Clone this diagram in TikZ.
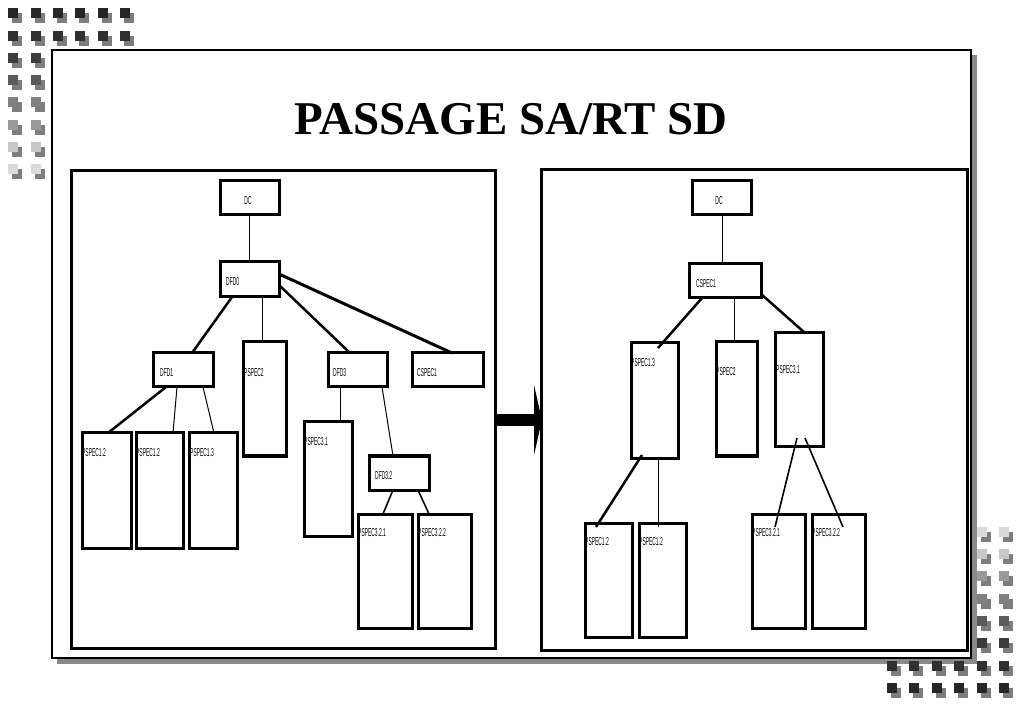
\documentclass[tikz,border=0pt]{standalone}
\usepackage{fontspec}
\usepackage{graphicx}
\setmainfont{Liberation Serif}
\newfontfamily\labfont{Liberation Sans}
\usetikzlibrary{calc,fit}
\newcommand{\cond}[1]{\scalebox{0.43}[1]{#1}}
\definecolor{sqA}{HTML}{262626}
\definecolor{sqB}{HTML}{303030}
\definecolor{sqC}{HTML}{3C3C3C}
\definecolor{sqD}{HTML}{5A5A5A}
\definecolor{sqE}{HTML}{808080}
\definecolor{sqF}{HTML}{9A9A9A}
\definecolor{sqG}{HTML}{C8C8C8}
\definecolor{sqH}{HTML}{DADADA}
\definecolor{sqshadow}{HTML}{7D7D7D}
\definecolor{frameshadow}{HTML}{8A8A8A}
\begin{document}
\begin{tikzpicture}[x=1pt,y=-1pt,
  box/.style={draw, line width=3pt, fill=white, inner sep=0pt, outer sep=0pt},
  panel/.style={draw, line width=3pt, fill=white, inner sep=0pt, outer sep=0pt},
  lab/.style={inner sep=0pt, font=\labfont\fontsize{11.5}{11.5}\selectfont, anchor=west},
  labc/.style={inner sep=0pt, font=\labfont\fontsize{11.5}{11.5}\selectfont},
  conn/.style={line width=1pt},
  connmid/.style={line width=1.6pt},
  connthick/.style={line width=2.5pt}
]
\useasboundingbox (0,0) rectangle (1023,708);

% outer frame with shadow
\fill[frameshadow] (57,55) rectangle (977,664);
\node[draw, line width=1.2pt, fill=white, inner sep=0pt, outer sep=0pt, fit={(52,50) (971,658)}] (frame) {};

% title
\node[font=\bfseries\fontsize{47}{47}\selectfont, anchor=base, inner sep=0pt] (title) at (511,135) {PASSAGE SA/RT SD};

% panels
\node[panel, fit={(71,171) (495,648)}] (leftP) {};
\node[panel, fit={(541,170) (967,650)}] (rightP) {};

% big arrow between panels
\fill ($(leftP.east)+(0,4.5)$) rectangle ($(leftP.east)+(39,16.5)$);
\fill ($(leftP.east)+(39,-24.5)$) -- ($(rightP.west)+(1,10)$) -- ($(leftP.east)+(39,45.5)$) -- cycle;

% ---------- left tree ----------
\node[box, fit={(220,181) (279,215)}] (dcL) {};
\node[box, fit={(220,262) (279,297)}] (dfd0) {};
\node[box, fit={(153,353) (213,387)}] (dfd1) {};
\node[box, fit={(243,342) (286,456)}] (p2L) {};
\node[box, fit={(328,353) (387,387)}] (dfd3) {};
\node[box, fit={(412,353) (483,387)}] (csL) {};
\node[box, fit={(82,433) (131,548)}] (p12aL) {};
\node[box, fit={(136,433) (183,548)}] (p12bL) {};
\node[box, fit={(189,433) (237,548)}] (p13L) {};
\node[box, fit={(304,422) (352,536)}] (p31L) {};
\node[box, fit={(369,456) (429,490)}] (dfd32) {};
\node[box, fit={(358,514) (412,628)}] (p321L) {};
\node[box, fit={(418,514) (471,628)}] (p322L) {};

\node[labc] at ($(dcL.center)+(-1.5,3)$) {\cond{DC}};
\node[lab] at ($(dfd0.north west)+(6,20)$) {\cond{DFD0}};
\node[lab] at ($(dfd1.north west)+(7,20)$) {\cond{DFD1}};
\node[lab] at ($(p2L.north west)+(1,31)$) {\cond{PSPEC2}};
\node[lab] at ($(dfd3.north west)+(5,20)$) {\cond{DFD3}};
\node[lab] at ($(csL.north west)+(5,20)$) {\cond{CSPEC1}};
\node[lab] at ($(p12aL.north west)+(0,20)$) {\cond{PSPEC1.2}};
\node[lab] at ($(p12bL.north west)+(0,20)$) {\cond{PSPEC1.2}};
\node[lab] at ($(p13L.north west)+(1,20)$) {\cond{PSPEC1.3}};
\node[lab] at ($(p31L.north west)+(0,20)$) {\cond{PSPEC3.1}};
\node[lab] at ($(dfd32.north west)+(6,20)$) {\cond{DFD3.2}};
\node[lab] at ($(p321L.north west)+(0,19)$) {\cond{PSPEC3.2.1}};
\node[lab] at ($(p322L.north west)+(0,19)$) {\cond{PSPEC3.2.2}};

\draw[conn] (dcL.south) -- (dfd0.north);
\draw[connthick] ($(dfd0.south)+(-17.5,0)$) -- ($(dfd1.north)+(9,0)$);
\draw[conn] ($(dfd0.south)+(12.5,0)$) -- ($(p2L.north)+(-2.5,0)$);
\draw[connthick] ($(dfd0.east)+(0,5.5)$) -- ($(dfd3.north)+(-7.5,0)$);
\draw[connthick, line width=3pt] ($(dfd0.east)+(0,-5.5)$) -- ($(csL.north)+(4.5,0)$);
\draw[connthick] ($(dfd1.south)+(-17,0)$) -- ($(p12aL.north)+(1.5,0)$);
\draw[conn] ($(dfd1.south)+(-6,0)$) -- ($(p12bL.north)+(13.5,0)$);
\draw[conn] ($(dfd1.south)+(20,0)$) -- ($(p13L.north)+(1,0)$);
\draw[conn] ($(dfd3.south)+(-17.5,0)$) -- ($(p31L.north)+(12,0)$);
\draw[conn] ($(dfd3.south)+(24.5,0)$) -- ($(dfd32.north)+(-6,0)$);
\draw[connmid] ($(dfd32.south)+(-6,0)$) -- ($(p321L.north)+(-2,0)$);
\draw[connmid] ($(dfd32.south)+(19,0)$) -- ($(p322L.north)+(-15.5,0)$);

% ---------- right tree ----------
\node[box, fit={(692,181) (751,215)}] (dcR) {};
\node[box, fit={(689,264) (761,298)}] (csR) {};
\node[box, fit={(631,343) (678,458)}] (p13R) {};
\node[box, fit={(716,342) (757,456)}] (p2R) {};
\node[box, fit={(775,333) (823,447)}] (p31R) {};
\node[box, fit={(585,523) (632,637)}] (p12aR) {};
\node[box, fit={(639,523) (686,637)}] (p12bR) {};
\node[box, fit={(752,514) (805,628)}] (p321R) {};
\node[box, fit={(812,514) (865,628)}] (p322R) {};

\node[labc] at ($(dcR.center)+(-2.5,3)$) {\cond{DC}};
\node[lab] at ($(csR.north west)+(7,20)$) {\cond{CSPEC1}};
\node[lab] at ($(p13R.north west)+(0,20)$) {\cond{PSPEC1.3}};
\node[lab] at ($(p2R.north west)+(0,30)$) {\cond{PSPEC2}};
\node[lab] at ($(p31R.north west)+(1,37)$) {\cond{PSPEC3.1}};
\node[lab] at ($(p12aR.north west)+(0,19)$) {\cond{PSPEC1.2}};
\node[lab] at ($(p12bR.north west)+(0,19)$) {\cond{PSPEC1.2}};
\node[lab] at ($(p321R.north west)+(0,19)$) {\cond{PSPEC3.2.1}};
\node[lab] at ($(p322R.north west)+(0,19)$) {\cond{PSPEC3.2.2}};

\draw[conn] ($(dcR.south)+(0.5,0)$) -- ($(csR.north)+(-3,0)$);
\draw[connthick] ($(csR.south)+(-23,0)$) -- ($(p13R.north)+(3.5,5)$);
\draw[conn] ($(csR.south)+(9,0)$) -- ($(p2R.north)+(-2.5,0)$);
\draw[connthick] ($(csR.east)+(0,13)$) -- ($(p31R.north)+(6,0)$);
\draw[connthick] ($(p13R.south)+(-12.5,-3)$) -- ($(p12aR.north)+(-12.5,4)$);
\draw[conn] ($(p13R.south)+(3.5,0)$) -- ($(p12bR.north)+(-4.5,4)$);
\draw[connmid] ($(p31R.south)+(-2,-9)$) -- ($(p321R.north)+(-3.5,13)$);
\draw[connmid] ($(p31R.south)+(6,-9)$) -- ($(p322R.north)+(4.5,13)$);

% ---------- decorative squares ----------
\foreach \r/\col/\n in {0/sqA/5,1/sqB/5,2/sqC/1,3/sqD/1,4/sqE/1,5/sqF/1,6/sqG/1,7/sqH/1}{
  \foreach \c in {0,...,\n}{
    \fill[sqshadow] ({8.3+22.3*\c+4},{8.3+22.3*\r+5}) rectangle +(10,10);
    \fill[\col] ({8.3+22.3*\c},{8.3+22.3*\r}) rectangle +(10,10);
  }
}
\foreach \r/\col/\s in {0/sqH/4,1/sqG/4,2/sqF/4,3/sqE/4,4/sqD/4,5/sqC/4,6/sqB/0,7/sqA/0}{
  \foreach \c in {\s,...,5}{
    \fill[sqshadow] ({886.7+22.5*\c+4},{526.7+22.3*\r+5}) rectangle +(10,10);
    \fill[\col] ({886.7+22.5*\c},{526.7+22.3*\r}) rectangle +(10,10);
  }
}
\end{tikzpicture}
\end{document}
